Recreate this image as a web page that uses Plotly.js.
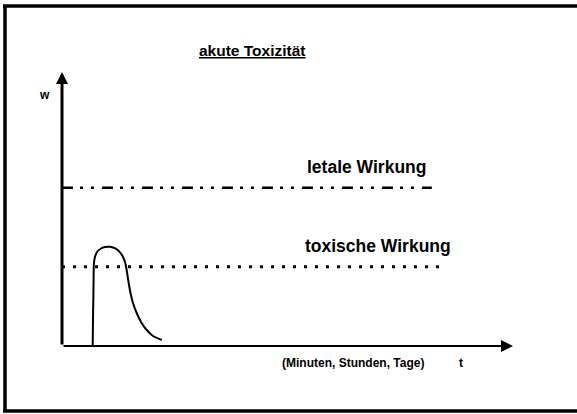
<!DOCTYPE html>
<html>
<head>
<meta charset="utf-8">
<script src="https://cdn.plot.ly/plotly-3.0.1.min.js"></script>
<style>html,body{margin:0;padding:0;background:#fff;}#chart{width:577px;height:414px;}</style>
</head>
<body>
<div id="chart"></div>
<script>
// Data (arbitrary units: t = time, w = effect)
var curveT = [6.81, 6.87, 6.98, 7.05, 7.25, 7.76, 8.65, 9.53, 10.49, 11.31, 12.20, 12.97, 13.64, 14.08, 14.41, 14.75, 15.19, 15.74, 16.56, 17.52, 18.78, 20.18, 22.11];
var curveW = [0, 9.49, 20.44, 29.56, 32.12, 34.31, 35.58, 36.13, 36.24, 35.95, 35.22, 33.94, 32.12, 29.93, 27.01, 23.36, 19.34, 15.69, 12.04, 8.76, 5.84, 3.65, 2.19];
var lethalT = [0, 82];
var lethalW = [57.8, 57.8];
var toxicT = [0, 85];
var toxicW = [28.9, 28.9];
var doseT = 6.9;
var axisMaxT = 100;
var axisMaxW = 100;
var labels = {
  title: 'akute Toxizität',
  lethal: 'letale Wirkung',
  toxic: 'toxische Wirkung',
  timeUnits: '(Minuten, Stunden, Tage)',
  t: 't',
  w: 'w'
};

// layout geometry helpers (pixel -> paper)
var L = 62, B = 68, T = 72, R = 64, W = 577, H = 414;
var pw = W - L - R, ph = H - T - B;
function px(x) { return (x - L) / pw; }
function py(y) { return (H - B - y) / ph; }

var FONT = 'Liberation Sans, Arial, sans-serif';
function txt(text, x, y, size, anchor) {
  return {text: text, xref: 'paper', yref: 'paper', x: px(x), y: py(y),
    xanchor: anchor || 'left', yanchor: 'middle', showarrow: false,
    font: {family: FONT, size: size, color: '#000', weight: 'bold'}};
}

var traces = [
  {x: lethalT, y: lethalW, mode: 'lines', line: {color: '#000', width: 2.5, dash: '11px,7px,3px,8px,3px,8px'}, hoverinfo: 'skip'},
  {x: toxicT, y: toxicW, mode: 'lines', line: {color: '#000', width: 3, dash: '3px,8px'}, hoverinfo: 'skip'},
  {x: curveT, y: curveW, mode: 'lines', line: {color: '#000', width: 2, shape: 'spline', smoothing: 0.3}, hoverinfo: 'skip'}
];

var annotations = [
  // y axis arrow
  {x: 0, y: axisMaxW, ax: 0, ay: 0, xref: 'x', yref: 'y', axref: 'x', ayref: 'y', showarrow: true,
   arrowhead: 2, arrowsize: 0.8, arrowwidth: 3, arrowcolor: '#000', standoff: 0, text: ''},
  // x axis arrow
  {x: axisMaxT, y: 0, ax: 0, ay: 0, xref: 'x', yref: 'y', axref: 'x', ayref: 'y', showarrow: true,
   arrowhead: 2, arrowsize: 1.2, arrowwidth: 2, arrowcolor: '#000', standoff: 0, text: ''},
  // dose arrow
  {x: doseT, y: -5.1, ax: doseT, ay: -12.8, xref: 'x', yref: 'y', axref: 'x', ayref: 'y', showarrow: true,
   arrowhead: 2, arrowsize: 1.5, arrowwidth: 1.5, arrowcolor: '#000', standoff: 0, text: ''},
  txt('<u>' + labels.title + '</u>', 252, 51, 15.5, 'center'),
  txt(labels.w, 37, 95, 12),
  txt(labels.lethal, 305, 167, 17.5),
  txt(labels.toxic, 303, 246, 17.5),
  txt(labels.timeUnits, 280, 363, 12),
  txt(labels.t, 457, 363, 12)
];

var shapes = [
  {type: 'line', xref: 'paper', yref: 'paper', x0: px(5), x1: px(5), y0: py(6), y1: py(411), line: {color: '#000', width: 3.5}},
  {type: 'line', xref: 'paper', yref: 'paper', x0: px(3), x1: px(577), y0: py(6), y1: py(6), line: {color: '#000', width: 3.5}},
  {type: 'line', xref: 'paper', yref: 'paper', x0: px(3), x1: px(577), y0: py(411), y1: py(411), line: {color: '#000', width: 3.5}}
];

var layout = {
  width: W, height: H,
  margin: {l: L, r: R, t: T, b: B, pad: 0},
  paper_bgcolor: '#fff', plot_bgcolor: '#fff',
  showlegend: false,
  xaxis: {range: [0, axisMaxT], visible: false, fixedrange: true},
  yaxis: {range: [0, axisMaxW], visible: false, fixedrange: true},
  annotations: annotations,
  shapes: shapes
};

Plotly.newPlot('chart', traces, layout, {staticPlot: true, displayModeBar: false});
</script>
</body>
</html>
